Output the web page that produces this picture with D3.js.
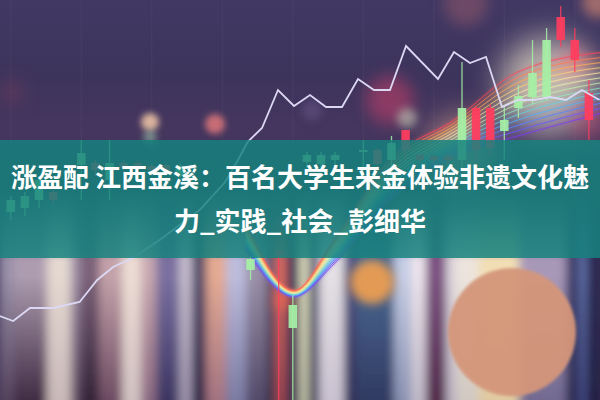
<!DOCTYPE html>
<html><head><meta charset="utf-8">
<script src="https://cdn.jsdelivr.net/npm/d3@7"></script>
<style>html,body{margin:0;padding:0;background:#3c3356;overflow:hidden}</style>
</head><body>
<svg id="c" width="600" height="400"></svg>
<script>
// ---------------- DATA ----------------
const titleLines = ["涨盈配 江西金溪：百名大学生来金体验非遗文化魅", "力_实践_社会_彭细华"];

// candlesticks (slot index, open, close, high, low) in price units
const candleSlot  = [0, 1, 2, 3, 5, 6, 7, 8, 9, 10, 11, 12, 17, 19, 20, 21, 22, 23, 25, 26, 27, 28, 29, 30, 31, 32, 33, 34, 35, 36, 37, 38, 39, 40, 41];
const candleOpen  = [47, 48, 50, 52, 58.75, 59.25, 55, 59.25, 59.25, 58.5, 58.75, 56, 32.5, 37, 18, 59.5, 59, 60, 62, 62.5, 60, 67.5, 61.25, 61, 61, 60, 73, 73, 67.25, 73, 75.75, 75.75, 95.75, 90, 76.75];
const candleClose = [50, 51, 55, 50, 61.75, 57.5, 59.25, 58, 58, 57.5, 57.5, 58.5, 35.25, 36.5, 23.75, 61.25, 61.25, 61.25, 62.5, 59, 64.25, 62.5, 60, 60, 60, 73, 62.5, 63, 70, 76, 81.75, 90, 90, 85, 70];
const candleHigh  = [51, 52, 56, 53, 65, 60, 65, 60, 60, 59, 59, 59, 36, 37.5, 26.25, 62, 62, 62, 65, 63, 66, 67.5, 61.5, 61.5, 61.5, 84.5, 73.5, 74, 73.75, 78.75, 90, 93, 98.5, 93, 80];
const candleLow   = [45, 46, 48, 49, 50, 56, 50, 57, 57, 56, 56, 54, 30, 0, 0, 58, 58, 59, 55, 58, 55, 60, 59, 59, 59, 58, 60, 61, 60, 70.5, 74, 75, 88.25, 82, 65];

// price line (time, price)
const lineT = [-0.4, 0.45, 1.5, 2.95, 4.6, 5.7, 6.7, 7.9, 9.6, 12.1, 13.7, 14.5, 15.1, 16, 17, 18, 19, 20, 21, 22, 23, 24, 25, 27, 28, 29, 30, 31, 32, 33, 34, 35, 36, 37.1];
const lineP = [21, 19.75, 23, 23, 24.5, 30, 33.25, 35.5, 40, 47.5, 54.5, 60, 64.5, 68, 77.5, 73.5, 76.25, 73.25, 73.25, 80.25, 77.5, 77.5, 88.5, 80.25, 87, 84.25, 85.75, 73.25, 75, 75, 75.75, 75, 77.5, 75];

// moving-average fan (time knots; lowest series value and total spread of the fan)
const maT      = [15, 18, 20.5, 24, 28, 32, 37.5];
const maBase   = [37.5, 25.8, 34, 50, 61, 66, 72];
const maRange  = [6.4, 1.6, 6, 10, 9, 16, 15];
const maCount  = 13;

// ---------------- DECOR (backdrop styling) ----------------
const stripes = [
 [0,15,"#9890a8","#54405a"],[15,48,"#ad9cb0","#3c2840"],[48,72,"#e4d8d0","#c8b8b8"],[72,82,"#9a88a0","#5a4860"],
 [82,100,"#7a6078","#302035"],[100,123,"#c4a2aa","#6a4860"],[123,142,"#ecdcd4","#d0c0c0"],[142,157,"#c8a8b0","#8a6880"],
 [157,180,"#7a70a0","#3a3460"],[180,193,"#c4bccc","#9a90a8"],[193,207,"#504868","#282040"],[207,227,"#e4aa92","#a07080"],
 [227,247,"#bcbcdc","#7878a0"],[247,267,"#9a90a8","#504868"],[267,277,"#605068","#3a3048"],[277,287,"#e07060","#a04850"],
 [287,300,"#3a3458","#2a2548"],[300,310,"#dcdcbc","#c0c0a8"],[310,320,"#4a4870","#2a2848"],[320,345,"#e4e0e4","#c8c0d0"],
 [345,357,"#505080","#303058"],[357,395,"#4a6890","#303860"],[395,412,"#c4cce4","#8890b0"],[412,427,"#ece4ec","#c0b8c8"],
 [427,447,"#7a5080","#502848"],[447,457,"#dcd4dc","#b8b0c0"],[457,480,"#ece4dc","#d0c8c0"],[480,520,"#f2deb4","#e0c8a0"],
 [520,567,"#a898b8","#706890"],[567,580,"#3a3a68","#2a2a50"],[580,588,"#6070a8","#404880"],[588,600,"#2a2850","#201e40"]
];
const bokeh = [ // cx, cy, r, color, opacity, blur
 [512,332,64,"#d4967a",0.95,1.5],[372,282,22,"#f4a050",0.9,5],[150,122,9,"#f6caa8",0.85,3],[150,137,7,"#a0d0b0",0.5,3],
 [215,124,10,"#e87a7c",0.8,3],[390,100,24,"#c8406a",0.55,8],[407,118,10,"#d8e8c8",0.5,4],[466,4,22,"#8a5468",0.6,7],
 [598,2,16,"#c88070",0.7,6],[312,110,10,"#6a5a90",0.5,4],[12,92,14,"#6a3a5a",0.5,8],[548,85,48,"#fff6d8",0.65,16],
 [462,150,36,"#f4b898",0.5,14],[574,62,16,"#ff7a90",0.4,8],[590,120,20,"#ff5070",0.3,10],[283,300,10,"#ff6a50",0.5,6]
];
const maColors = ["#7a3cf0","#5a6cff","#4ab0ff","#70e0d0","#c8f0a0","#fff0c0","#ffd070","#ff9a4a","#ff4a5a"];

// ---------------- DRAW ----------------
const W = 600, H = 400;
const svg = d3.select("#c");
const defs = svg.append("defs");

const x  = d3.scaleLinear().domain([0, 41]).range([10.8, 588.9]);
const xt = d3.scaleLinear().domain([0, 37]).range([6, 598]);
const y  = d3.scaleLinear().domain([0, 100]).range([H, 0]);

// background gradient
const bg = defs.append("linearGradient").attr("id","bg").attr("x1",0).attr("y1",0).attr("x2",0).attr("y2",1);
[[0,"#413864"],[0.2,"#3d345c"],[0.32,"#45365e"],[0.5,"#3c3358"]].forEach(s=>bg.append("stop").attr("offset",s[0]).attr("stop-color",s[1]));
svg.append("rect").attr("width",W).attr("height",H).attr("fill","url(#bg)");

// filters
function blurFilter(id, sd){
  const f = defs.append("filter").attr("id",id).attr("x","-50%").attr("y","-50%").attr("width","200%").attr("height","200%");
  f.append("feGaussianBlur").attr("stdDeviation", sd);
}
blurFilter("hblur","5 0");
const glow = defs.append("filter").attr("id","glow").attr("x","-20%").attr("y","-20%").attr("width","140%").attr("height","140%");
glow.append("feGaussianBlur").attr("in","SourceGraphic").attr("stdDeviation",1.4).attr("result","b");
const gm = glow.append("feMerge"); gm.append("feMergeNode").attr("in","b"); gm.append("feMergeNode").attr("in","SourceGraphic");

// stripes with fade-in mask
const mg = defs.append("linearGradient").attr("id","fade").attr("gradientUnits","userSpaceOnUse").attr("x1",0).attr("y1",190).attr("x2",0).attr("y2",262);
mg.append("stop").attr("offset",0).attr("stop-color","#000");
mg.append("stop").attr("offset",1).attr("stop-color","#fff");
defs.append("mask").attr("id","m").append("rect").attr("width",W).attr("height",H).attr("fill","url(#fade)");
stripes.forEach((s,i)=>{
  const g = defs.append("linearGradient").attr("id","s"+i).attr("x1",0).attr("y1",0).attr("x2",0).attr("y2",1);
  g.append("stop").attr("offset",0).attr("stop-color",s[2]);
  g.append("stop").attr("offset",0.4).attr("stop-color",s[2]);
  g.append("stop").attr("offset",1).attr("stop-color",s[3]);
});
const sg = svg.append("g").attr("mask","url(#m)").append("g").attr("filter","url(#hblur)");
sg.selectAll("rect").data(stripes).join("rect")
  .attr("x",d=>d[0]-1).attr("width",d=>d[1]-d[0]+2).attr("y",190).attr("height",215)
  .attr("fill",(d,i)=>"url(#s"+i+")");

// faint grid
svg.append("g").selectAll("line").data(d3.range(0,41,5)).join("line")
  .attr("x1",d=>x(d)).attr("x2",d=>x(d)).attr("y1",0).attr("y2",200)
  .attr("stroke","#ffffff").attr("stroke-opacity",0.045);

// bokeh
bokeh.forEach((b,i)=>blurFilter("bk"+i, b[5]));
svg.append("g").selectAll("circle").data(bokeh).join("circle")
  .attr("cx",d=>d[0]).attr("cy",d=>d[1]).attr("r",d=>d[2]).attr("fill",d=>d[3]).attr("opacity",d=>d[4])
  .attr("filter",(d,i)=>"url(#bk"+i+")");

// MA fan
const maColor = d3.interpolateRgbBasis(maColors);
const maLine = d3.line().x(d=>xt(d[0])).y(d=>y(d[1])).curve(d3.curveMonotoneX);
const maSeries = d3.range(maCount).map(k => maT.map((t,j)=>[t, maBase[j] + maRange[j]*k/(maCount-1)]));
svg.append("g").attr("filter","url(#glow)").selectAll("path").data(maSeries).join("path")
  .attr("d",maLine).attr("fill","none").attr("stroke",(d,k)=>maColor(k/(maCount-1))).attr("stroke-width",0.9).attr("stroke-opacity",0.85);

// candles
const candles = candleSlot.map((s,i)=>({s, o:candleOpen[i], c:candleClose[i], h:candleHigh[i], l:candleLow[i]}));
const cw = 8.5;
const cg = svg.append("g").selectAll("g").data(candles).join("g");
const col = d => d.c >= d.o ? "#a6f0a6" : "#ff3d5e";
cg.append("line").attr("x1",d=>x(d.s)).attr("x2",d=>x(d.s)).attr("y1",d=>y(d.h)).attr("y2",d=>y(d.l))
  .attr("stroke",col).attr("stroke-width",1.3).attr("stroke-opacity",0.85);
cg.append("rect").attr("x",d=>x(d.s)-cw/2).attr("width",cw)
  .attr("y",d=>y(Math.max(d.o,d.c))).attr("height",d=>Math.max(1.5, y(Math.min(d.o,d.c))-y(Math.max(d.o,d.c))))
  .attr("fill",col).attr("opacity",0.92);

// price line
svg.append("path").datum(lineT.map((t,i)=>[t,lineP[i]]))
  .attr("d", d3.line().x(d=>xt(d[0])).y(d=>y(d[1])))
  .attr("fill","none").attr("stroke","#dcd8f4").attr("stroke-width",1.8).attr("stroke-linejoin","miter");

// banner
svg.append("rect").attr("x",0).attr("y",140).attr("width",W).attr("height",118)
  .attr("fill","#16837e").attr("opacity",0.84);

// title
svg.append("g").selectAll("text").data(titleLines).join("text")
  .attr("x",W/2).attr("y",(d,i)=>187 + i*44)
  .attr("text-anchor","middle")
  .attr("font-family","'Noto Sans CJK SC', 'Noto Sans', sans-serif")
  .attr("font-weight",700).attr("font-size",26).attr("fill","#ffffff")
  .text(d=>d);
</script>
</body></html>
